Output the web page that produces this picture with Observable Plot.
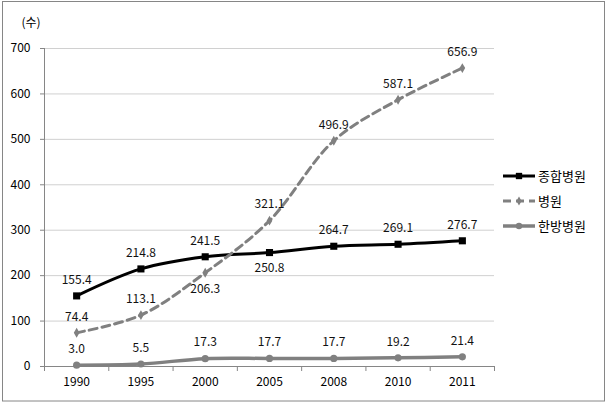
<!DOCTYPE html>
<html><head><meta charset="utf-8">
<script src="https://cdn.jsdelivr.net/npm/d3@7"></script>
<script src="https://cdn.jsdelivr.net/npm/@observablehq/plot@0.6"></script>
<style>body{margin:0;background:#fff}</style>
</head><body><div id="chart"></div>
<script>
const years = ["1990","1995","2000","2005","2008","2010","2011"];
const seriesNames = ["종합병원","병원","한방병원"];
const general = [155.4,214.8,241.5,250.8,264.7,269.1,276.7];
const hospital = [74.4,113.1,206.3,321.1,496.9,587.1,656.9];
const oriental = [3.0,5.5,17.3,17.7,17.7,19.2,21.4];
const yTicks = [0,100,200,300,400,500,600,700];
const unitLabel = "(수)";
// labels placed below their point
const belowLabels = [["종합병원","2005"],["병원","2000"]];

const seriesValues = [general, hospital, oriental];
const styles = {
  "종합병원": {stroke:"#000", dash:null, symbol:"square", r:4, width:3},
  "병원": {stroke:"#808080", dash:"8,5", symbol:"diamond", r:3, width:3},
  "한방병원": {stroke:"#808080", dash:null, symbol:"circle", r:3.6, width:3.5}
};
const rows = [];
seriesNames.forEach((s, k) => years.forEach((yr, i) => rows.push({
  series: s, year: yr, pos: i + 0.5, value: seriesValues[k][i],
  below: belowLabels.some(([a, b]) => a === s && b === yr)
})));

const seriesMarks = [];
seriesNames.forEach(s => {
  const st = styles[s];
  const data = rows.filter(d => d.series === s);
  seriesMarks.push(Plot.line(data, {x:"pos", y:"value", stroke:st.stroke, strokeWidth:st.width,
    strokeDasharray:st.dash, curve:"catmull-rom", strokeLinejoin:"round"}));
  seriesMarks.push(Plot.dot(data, {x:"pos", y:"value", symbol:st.symbol, r:st.r, fill:st.stroke, stroke:"none"}));
});

const labelFont = 12;
const plot = Plot.plot({
  width: 610, height: 403,
  marginLeft: 44, marginRight: 116, marginTop: 48, marginBottom: 37,
  style: {fontFamily: '"Noto Sans CJK KR", "Noto Sans", sans-serif', fontSize: labelFont + "px", color: "#000", background: "#fff"},
  x: {type: "linear", domain: [0, years.length]},
  y: {domain: [0, 700]},
  marks: [
    Plot.gridY(yTicks.filter(d => d > 0), {stroke: "#d0d0d0", strokeOpacity: 1}),
    Plot.axisY(yTicks, {tickSize: 4, tickPadding: 10, stroke: "#868686", label: null, tickFormat: d => String(d)}),
    Plot.axisX(d3.range(years.length + 1), {tickSize: 5, tickFormat: () => "", stroke: "#868686", label: null}),
    Plot.axisX(years.map((d, i) => i + 0.5), {tickSize: 0, tickPadding: 11, tickFormat: v => years[Math.floor(v)], label: null}),
    Plot.ruleX([0], {stroke: "#868686"}),
    Plot.ruleY([0], {stroke: "#868686"}),
    ...seriesMarks,
    Plot.text(rows.filter(d => !d.below), {x: "pos", y: "value", text: d => d.value.toFixed(1), dy: -16, fill: "#111"}),
    Plot.text(rows.filter(d => d.below), {x: "pos", y: "value", text: d => d.value.toFixed(1), dy: 16, fill: "#111"}),
    Plot.text([unitLabel], {frameAnchor: "top-left", dx: -23, dy: -30, fill: "#000"})
  ]
});
document.getElementById("chart").appendChild(plot);

// outer border and legend
const svg = d3.select(plot);
svg.append("rect").attr("x", 2.5).attr("y", 1.5).attr("width", 602).attr("height", 399.5)
  .attr("fill", "none").attr("stroke", "#868686");
const sym = {square: d3.symbolSquare, diamond: d3.symbolDiamond, circle: d3.symbolCircle};
const lg = svg.append("g").attr("text-anchor", "start");
seriesNames.forEach((s, i) => {
  const st = styles[s];
  const y = 176 + i * 25;
  const g = lg.append("g");
  g.append("line").attr("x1", 503).attr("x2", 535).attr("y1", y).attr("y2", y)
    .attr("stroke", st.stroke).attr("stroke-width", st.width).attr("stroke-dasharray", st.dash);
  g.append("path").attr("transform", `translate(519,${y})`)
    .attr("d", d3.symbol(sym[st.symbol], Math.PI * st.r * st.r * 0.8)()).attr("fill", st.stroke);
  g.append("text").attr("x", 538).attr("y", y).attr("dy", "0.35em")
    .attr("text-anchor", "start").attr("font-size", 13).attr("fill", "#000").text(s);
});
</script></body></html>
